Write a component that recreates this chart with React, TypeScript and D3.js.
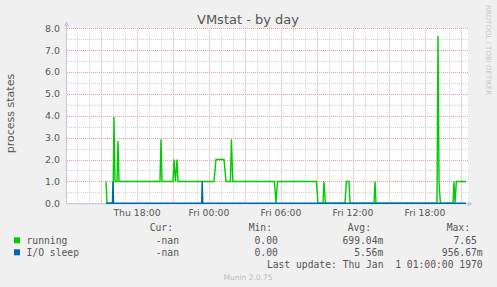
import React from "react";
import * as d3 from "d3";

const W = 497;
const H = 287;

const title = "VMstat - by day";
const yLabel = "process states";
const yTicks = [0, 1, 2, 3, 4, 5, 6, 7, 8];
const timeStart = "01 12:10";
const timeEnd = "02 21:30";

// running: [day hh:mm, value]  (day 01 = Thu Jan 1 1970, day 02 = Fri)
const runningData: [string, number][] = [
  ["01 15:25", 1], ["01 15:30", 0], ["01 16:00", 0], ["01 16:05", 3.95], ["01 16:10", 1],
  ["01 16:20", 1], ["01 16:25", 2.85], ["01 16:30", 1],
  ["01 19:55", 1], ["01 20:00", 2.93], ["01 20:05", 1],
  ["01 21:00", 1], ["01 21:05", 2], ["01 21:12", 1], ["01 21:20", 2], ["01 21:25", 1],
  ["02 00:25", 1], ["02 00:35", 2], ["02 01:15", 2], ["02 01:25", 1],
  ["02 01:47", 1], ["02 01:52", 2.93], ["02 01:59", 1],
  ["02 05:27", 1], ["02 05:35", 0], ["02 05:42", 1],
  ["02 08:57", 1], ["02 09:05", 0], ["02 09:30", 0], ["02 09:35", 1], ["02 09:42", 0],
  ["02 11:20", 0], ["02 11:27", 1], ["02 11:40", 1], ["02 11:45", 0],
  ["02 13:45", 0], ["02 13:50", 1], ["02 13:55", 0],
  ["02 19:00", 0], ["02 19:05", 7.65], ["02 19:10", 1], ["02 19:17", 0],
  ["02 20:20", 0], ["02 20:25", 1], ["02 20:30", 0], ["02 20:37", 1], ["02 21:25", 1],
];

const ioSleepData: [string, number][] = [
  ["01 15:25", 0], ["01 15:57", 0], ["01 16:00", 1], ["01 16:03", 0],
  ["01 23:23", 0], ["01 23:26", 1], ["01 23:29", 0], ["02 21:25", 0],
];

const legendHeaders = ["Cur:", "Min:", "Avg:", "Max:"];
const legendNames = ["running", "I/O sleep"];
const legendColors = ["#00cc00", "#0066b3"];
const legendCur = ["-nan", "-nan"];
const legendMin = ["0.00", "0.00"];
const legendAvg = ["699.04m", "5.56m"];
const legendMax = ["7.65", "956.67m"];
const lastUpdate = "Last update: Thu Jan  1 01:00:00 1970";
const footer = "Munin 2.0.75";
const watermark = "RRDTOOL / TOBI OETIKER";

const parse = d3.utcParse("%Y-%m-%d %H:%M");
const toDate = (s: string) => parse("1970-01-" + s)!;

export default function App() {
  const left = 67, right = 467, top = 28.3, bottom = 203.3;
  const x = d3.scaleUtc().domain([toDate(timeStart), toDate(timeEnd)]).range([left, right]);
  const y = d3.scaleLinear().domain([0, 8]).range([bottom, top]);

  const hours = x.ticks(d3.utcHour.every(1)!);
  const labelTicks = x.ticks(d3.utcHour.every(6)!);
  const fmt = d3.utcFormat("%a %H:%M");
  const minorY = d3.range(0.5, 8, 1);

  const line = d3
    .line<[string, number]>()
    .x((d) => x(toDate(d[0])))
    .y((d) => y(d[1]));

  const mono = "'DejaVu Sans Mono', monospace";
  const sans = "'DejaVu Sans', sans-serif";
  const txt = "#555555";
  const colEnds = [173, 272, 371, 470];

  return (
    <svg width={W} height={H} style={{ position: "absolute", left: 0, top: 0, display: "block" }}>
      <rect x={0} y={0} width={W} height={H} fill="#f0f0f0" />
      <rect x={left} y={top} width={right - left + 1} height={bottom - top} fill="#ffffff" />

      {/* vertical grid */}
      {hours.map((h, i) => (
        <line key={"vh" + i} x1={Math.round(x(h)) + 0.5} x2={Math.round(x(h)) + 0.5} y1={top} y2={bottom}
          stroke={h.getUTCHours() % 3 === 0 ? "#e89c9c" : "#d2d2d2"} strokeDasharray="1,1" strokeWidth={1} />
      ))}
      {/* horizontal grid */}
      {minorY.map((v, i) => (
        <line key={"hm" + i} x1={left} x2={right + 1} y1={Math.round(y(v)) + 0.5} y2={Math.round(y(v)) + 0.5}
          stroke="#d2d2d2" strokeDasharray="1,1" />
      ))}
      {yTicks.map((v, i) => (
        <line key={"hM" + i} x1={left} x2={right + 1} y1={Math.round(y(v)) + 0.5} y2={Math.round(y(v)) + 0.5}
          stroke="#e89c9c" strokeDasharray="1,1" />
      ))}

      {/* axes */}
      <line x1={left - 0.5} x2={left - 0.5} y1={top - 4} y2={bottom + 0.5} stroke="#c8c8ee" />
      <line x1={left - 0.5} x2={right + 3} y1={bottom + 0.5} y2={bottom + 0.5} stroke="#c8c8ee" />
      <path d={`M${left - 3},${top - 2} L${left + 2},${top - 2} L${left - 0.5},${top - 7} Z`} fill="#c8c8ee" />
      <path d={`M${right + 1},${bottom - 2} L${right + 1},${bottom + 3} L${right + 6},${bottom + 0.5} Z`} fill="#c8c8ee" />

      {/* y tick labels */}
      {yTicks.map((v, i) => (
        <text key={"yl" + i} x={60} y={y(v) + 3.4} textAnchor="end" fontFamily={sans} fontSize={9.4} fill={txt}>
          {v.toFixed(1)}
        </text>
      ))}
      {/* x tick labels */}
      {labelTicks.map((t, i) => (
        <text key={"xl" + i} x={x(t)} y={216.3} textAnchor="middle" fontFamily={sans} fontSize={9.3} fill={txt}>
          {fmt(t)}
        </text>
      ))}

      {/* series */}
      <path d={line(runningData) || ""} fill="none" stroke={legendColors[0]} strokeWidth={1.4} />
      <path d={line(ioSleepData) || ""} fill="none" stroke={legendColors[1]} strokeWidth={1.4} />

      {/* title */}
      <text x={248} y={23.7} textAnchor="middle" fontFamily={sans} fontSize={13} fill={txt}>{title}</text>
      <text transform={`translate(14,113.5) rotate(-90)`} textAnchor="middle" fontFamily={sans} fontSize={11} fill={txt}>
        {yLabel}
      </text>
      <text transform={`translate(485.5,5) rotate(90)`} fontFamily={sans} fontSize={7} fill="#c8c8c8">
        {watermark}
      </text>

      {/* legend */}
      {legendHeaders.map((h, i) => (
        <text key={"lh" + i} x={colEnds[i]} y={231} textAnchor="end" fontFamily={mono} fontSize={9.7} fill={txt}>{h}</text>
      ))}
      {legendNames.map((n, i) => {
        const by = 243.5 + i * 12;
        return (
          <g key={"lg" + i}>
            <rect x={14} y={by - 6.2} width={6} height={6} fill={legendColors[i]} />
            <text x={26.5} y={by} fontFamily={mono} fontSize={9.7} fill={txt} style={{ whiteSpace: "pre" }}>{n}</text>
            <text x={179} y={by} textAnchor="end" fontFamily={mono} fontSize={9.7} fill={txt}>{legendCur[i]}</text>
            <text x={283.7} y={by} textAnchor="end" fontFamily={mono} fontSize={9.7} fill={txt} style={{ whiteSpace: "pre" }}>{legendMin[i] + (legendMin[i].endsWith("m") ? "" : " ")}</text>
            <text x={383.3} y={by} textAnchor="end" fontFamily={mono} fontSize={9.7} fill={txt} style={{ whiteSpace: "pre" }}>{legendAvg[i] + (legendAvg[i].endsWith("m") ? "" : " ")}</text>
            <text x={482.7} y={by} textAnchor="end" fontFamily={mono} fontSize={9.7} fill={txt} style={{ whiteSpace: "pre" }}>{legendMax[i] + (legendMax[i].endsWith("m") ? "" : " ")}</text>
          </g>
        );
      })}
      <text x={482.7} y={267.5} textAnchor="end" fontFamily={mono} fontSize={9.7} fill={txt} style={{ whiteSpace: "pre" }}>{lastUpdate}</text>
      <text x={248} y={279.5} textAnchor="middle" fontFamily={sans} fontSize={7.5} fill="#bbbbbb">{footer}</text>
    </svg>
  );
}
